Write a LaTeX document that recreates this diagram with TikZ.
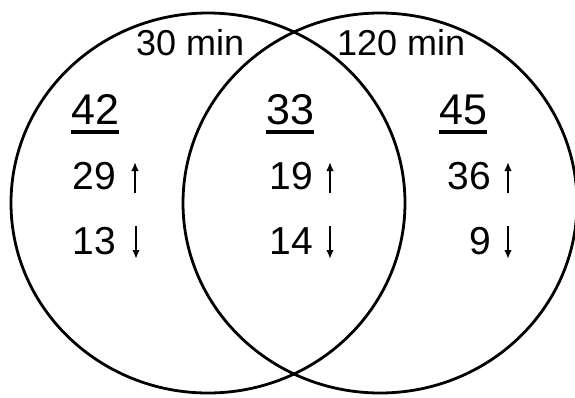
\documentclass[tikz,border=0pt]{standalone}
\usepackage{fontspec}
\setmainfont{Liberation Sans}
\usetikzlibrary{arrows.meta,calc}
\begin{document}
\begin{tikzpicture}[x=1pt,y=-1pt,
  ring/.style={draw=black,line width=2.8pt},
  lbl/.style={inner sep=0pt,anchor=base west,font=\fontsize{36}{40}\selectfont},
  big/.style={inner sep=0pt,anchor=base west,font=\fontsize{43}{46}\selectfont},
  cnt/.style={inner sep=0pt,anchor=base east,font=\fontsize{39}{42}\selectfont},
  ul/.style={line width=3.2pt},
  arr/.style={line width=2.2pt,-{Latex[length=9pt,width=7.5pt]}}]
\useasboundingbox (0,0) rectangle (575,397);
\clip (0,0) rectangle (575,397);
\fill[white] (0,0) rectangle (575,397);
\draw[ring] (208,203) ellipse [x radius=197,y radius=190];
\draw[ring] (380,203) ellipse [x radius=197,y radius=190];
\node[lbl] (t30) at (136,55) {30 min};
\node[lbl] (t120) at (337,55) {120 min};
\node[big] (n42) at (71,124) {42};
\node[big] (n33) at (266,124) {33};
\node[big] (n45) at (439,124) {45};
\foreach \n in {n42,n33,n45}{
  \draw[ul] ($(\n.base west)+(0,8)$) -- ($(\n.base east)+(0,8)$);
}
\node[cnt] (c29) at (116,189) {29};
\node[cnt] (c13) at (116,254) {13};
\node[cnt] (c19) at (313,189) {19};
\node[cnt] (c14) at (313,254) {14};
\node[cnt] (c36) at (491,189) {36};
\node[cnt] (c9) at (491,254) {9};
\coordinate (u1b) at (135,193); \coordinate (u1t) at (135,162);
\coordinate (d1t) at (136,226); \coordinate (d1b) at (136,259);
\coordinate (u2b) at (330,193); \coordinate (u2t) at (330,162);
\coordinate (d2t) at (330,226); \coordinate (d2b) at (330,259);
\coordinate (u3b) at (508,193); \coordinate (u3t) at (508,162);
\coordinate (d3t) at (508,226); \coordinate (d3b) at (508,259);
\draw[arr] (u1b) -- (u1t);
\draw[arr] (d1t) -- (d1b);
\draw[arr] (u2b) -- (u2t);
\draw[arr] (d2t) -- (d2b);
\draw[arr] (u3b) -- (u3t);
\draw[arr] (d3t) -- (d3b);
\end{tikzpicture}
\end{document}
